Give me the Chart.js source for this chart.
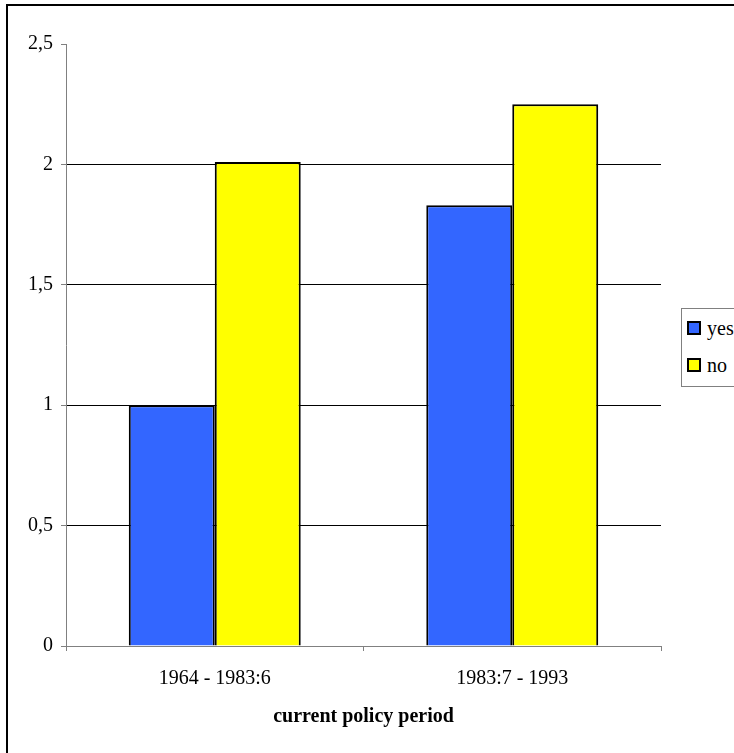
<!DOCTYPE html>
<html>
<head>
<meta charset="utf-8">
<title>current policy period</title>
<script src="https://cdn.jsdelivr.net/npm/chart.js@4"></script>
<style>
  body { margin: 0; background: #fff; }
  #wrap { position: relative; width: 734px; height: 753px; overflow: hidden; background: #fff; }
  #frame { position: absolute; left: 6px; top: 4px; width: 800px; height: 800px; border: 2px solid #000; }
  #chart { position: absolute; left: 0; top: 0; }
  #legend { position: absolute; left: 681px; top: 308px; width: 80px; height: 77px;
            border: 1px solid #808080; background: #fff;
            font-family: 'Liberation Serif', 'Times New Roman', serif; font-size: 20px; color: #000; }
  .item { position: absolute; left: 5px; height: 24px; line-height: 24px; display: flex; align-items: center; }
  .swatch { width: 10px; height: 10px; border: 2px solid #000; margin-right: 6px; }
</style>
</head>
<body>
<div id="wrap">
  <div id="frame"></div>
  <canvas id="chart" width="734" height="753"></canvas>
  <div id="legend"></div>
</div>
<script>
const categories = ['1964 - 1983:6', '1983:7 - 1993'];
const seriesNames = ['yes', 'no'];
const yesValues = [1, 1.83];
const noValues = [2.01, 2.25];
const yTicks = [0, 0.5, 1, 1.5, 2, 2.5];
const axisTitle = 'current policy period';

const fontFamily = "'Liberation Serif', 'Times New Roman', serif";
const axisGrey = '#808080';

const ctx = document.getElementById('chart').getContext('2d');
const chart = new Chart(ctx, {
    type: 'bar',
    data: {
        labels: categories,
        datasets: [
            {
                label: seriesNames[0],
                data: yesValues,
                backgroundColor: '#3366ff',
                borderColor: '#000',
                borderWidth: 2,
                categoryPercentage: 0.578,
                barPercentage: 1
            },
            {
                label: seriesNames[1],
                data: noValues,
                backgroundColor: '#ffff00',
                borderColor: '#000',
                borderWidth: 2,
                categoryPercentage: 0.578,
                barPercentage: 1
            }
        ]
    },
    options: {
        responsive: false,
        animation: false,
        layout: { padding: { top: 44, right: 73, left: 0, bottom: 0 } },
        plugins: {
            legend: { display: false },
            tooltip: { enabled: false }
        },
        scales: {
            x: {
                grid: { offset: true, drawOnChartArea: false, tickLength: 5, tickColor: axisGrey },
                border: { color: axisGrey },
                ticks: { color: '#000', font: { family: fontFamily, size: 20 }, padding: 16, maxRotation: 0 },
                title: {
                    display: true,
                    text: axisTitle,
                    color: '#000',
                    font: { family: fontFamily, size: 20, weight: 'bold' },
                    padding: { top: 0, bottom: 24 }
                },
                afterFit: (scale) => { scale.height = 107; }
            },
            y: {
                min: 0,
                max: 2.5,
                afterBuildTicks: (scale) => {
                    scale.ticks = yTicks.map(v => ({ value: v }));
                },
                grid: {
                    color: (c) => {
                        if (c.tick && (c.tick.value === 0 || c.tick.value === 2.5)) {
                            return 'rgba(0,0,0,0)';
                        }
                        return '#000';
                    },
                    tickLength: 5,
                    tickColor: axisGrey
                },
                border: { color: axisGrey },
                ticks: {
                    color: '#000',
                    font: { family: fontFamily, size: 20 },
                    padding: 8,
                    callback: (v) => String(v).replace('.', ',')
                },
                afterFit: (scale) => { scale.width = 66; }
            }
        }
    }
});

// legend box on the right, built from the datasets
const legend = document.getElementById('legend');
const rowTops = [7, 44];
chart.data.datasets.forEach((ds, i) => {
    const item = document.createElement('div');
    item.className = 'item';
    item.style.top = rowTops[i] + 'px';
    item.innerHTML = `<span class="swatch" style="background:${ds.backgroundColor}"></span><span>${ds.label}</span>`;
    legend.appendChild(item);
});
</script>
</body>
</html>
